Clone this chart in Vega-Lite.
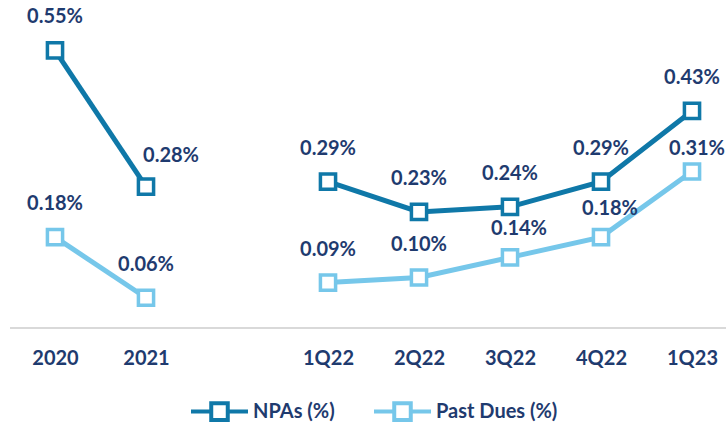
{
  "$schema": "https://vega.github.io/schema/vega-lite/v6.json",
  "width": 716,
  "height": 318,
  "autosize": {"type": "none"},
  "padding": {"left": 10, "top": 10, "right": 0, "bottom": 96},
  "background": "white",
  "config": {
    "view": {"stroke": null},
    "font": "Lato",
    "legend": {
      "orient": "none",
      "legendX": 179,
      "legendY": 371,
      "direction": "horizontal",
      "title": null,
      "labelFont": "Lato",
      "labelFontWeight": "bold",
      "labelFontSize": 20,
      "labelColor": "#1F3B6F",
      "symbolType": "M-1,0H-0.3M0.3,0H1M-0.29,-0.29H0.29V0.29H-0.29Z",
      "symbolSize": 3249,
      "symbolStrokeWidth": 4,
      "symbolFillColor": "white",
      "columnPadding": 31,
      "labelOffset": 3
    }
  },
  "data": {
    "values": [
      {"period": "2020", "series": "NPAs (%)", "value": 0.55, "group": "annual"},
      {"period": "2021", "series": "NPAs (%)", "value": 0.28, "group": "annual"},
      {"period": "1Q22", "series": "NPAs (%)", "value": 0.29, "group": "quarterly"},
      {"period": "2Q22", "series": "NPAs (%)", "value": 0.23, "group": "quarterly"},
      {"period": "3Q22", "series": "NPAs (%)", "value": 0.24, "group": "quarterly"},
      {"period": "4Q22", "series": "NPAs (%)", "value": 0.29, "group": "quarterly"},
      {"period": "1Q23", "series": "NPAs (%)", "value": 0.43, "group": "quarterly"},
      {"period": "2020", "series": "Past Dues (%)", "value": 0.18, "group": "annual"},
      {"period": "2021", "series": "Past Dues (%)", "value": 0.06, "group": "annual"},
      {"period": "1Q22", "series": "Past Dues (%)", "value": 0.09, "group": "quarterly"},
      {"period": "2Q22", "series": "Past Dues (%)", "value": 0.10, "group": "quarterly"},
      {"period": "3Q22", "series": "Past Dues (%)", "value": 0.14, "group": "quarterly"},
      {"period": "4Q22", "series": "Past Dues (%)", "value": 0.18, "group": "quarterly"},
      {"period": "1Q23", "series": "Past Dues (%)", "value": 0.31, "group": "quarterly"}
    ]
  },
  "transform": [{"calculate": "format(datum.value, '.2f') + '%'", "as": "label"}],
  "encoding": {
    "x": {
      "field": "period",
      "type": "ordinal",
      "sort": null,
      "scale": {
        "type": "point",
        "domain": ["2020", "2021", " ", "1Q22", "2Q22", "3Q22", "4Q22", "1Q23"],
        "range": [45, 682],
        "padding": 0
      },
      "axis": {
        "title": null,
        "ticks": false,
        "domain": false,
        "labelFont": "Lato",
        "labelFontWeight": "bold",
        "labelFontSize": 20,
        "labelColor": "#1F3B6F",
        "labelPadding": 20,
        "labelAngle": 0,
        "grid": false
      }
    },
    "y": {
      "field": "value",
      "type": "quantitative",
      "scale": {"domain": [0, 0.63], "nice": false, "zero": true},
      "axis": null
    },
    "color": {
      "field": "series",
      "type": "nominal",
      "scale": {"domain": ["NPAs (%)", "Past Dues (%)"], "range": ["#0F78A8", "#76C7EA"]}
    }
  },
  "layer": [
    {
      "mark": {"type": "rule", "color": "#D9D9D9", "strokeWidth": 2},
      "encoding": {"y": {"datum": 0}, "x": null, "color": null}
    },
    {
      "mark": {"type": "line", "strokeWidth": 5},
      "encoding": {"detail": {"field": "group"}}
    },
    {
      "mark": {"type": "point", "shape": "square", "size": 230, "filled": false, "fill": "white", "fillOpacity": 1, "strokeWidth": 3.5, "opacity": 1}
    },
    {
      "transform": [{"filter": "!((datum.period == '2021' && datum.series == 'NPAs (%)') || (datum.period == '1Q23' && datum.series == 'Past Dues (%)') || (datum.period == '4Q22' && datum.series == 'Past Dues (%)') || (datum.period == '3Q22' && datum.series == 'Past Dues (%)'))"}],
      "mark": {"type": "text", "dy": -33, "font": "Lato", "fontWeight": "bold", "fontSize": 20},
      "encoding": {"text": {"field": "label"}, "color": {"value": "#1F3B6F"}}
    },
    {
      "transform": [{"filter": "datum.period == '2021' && datum.series == 'NPAs (%)'"}],
      "mark": {"type": "text", "dy": -31, "dx": 25, "font": "Lato", "fontWeight": "bold", "fontSize": 20},
      "encoding": {"text": {"field": "label"}, "color": {"value": "#1F3B6F"}}
    },
    {
      "transform": [{"filter": "datum.period == '1Q23' && datum.series == 'Past Dues (%)'"}],
      "mark": {"type": "text", "dy": -23, "dx": 5, "font": "Lato", "fontWeight": "bold", "fontSize": 20},
      "encoding": {"text": {"field": "label"}, "color": {"value": "#1F3B6F"}}
    },
    {
      "transform": [{"filter": "(datum.period == '4Q22' || datum.period == '3Q22') && datum.series == 'Past Dues (%)'"}],
      "mark": {"type": "text", "dy": -28, "dx": 9, "font": "Lato", "fontWeight": "bold", "fontSize": 20},
      "encoding": {"text": {"field": "label"}, "color": {"value": "#1F3B6F"}}
    }
  ]
}
